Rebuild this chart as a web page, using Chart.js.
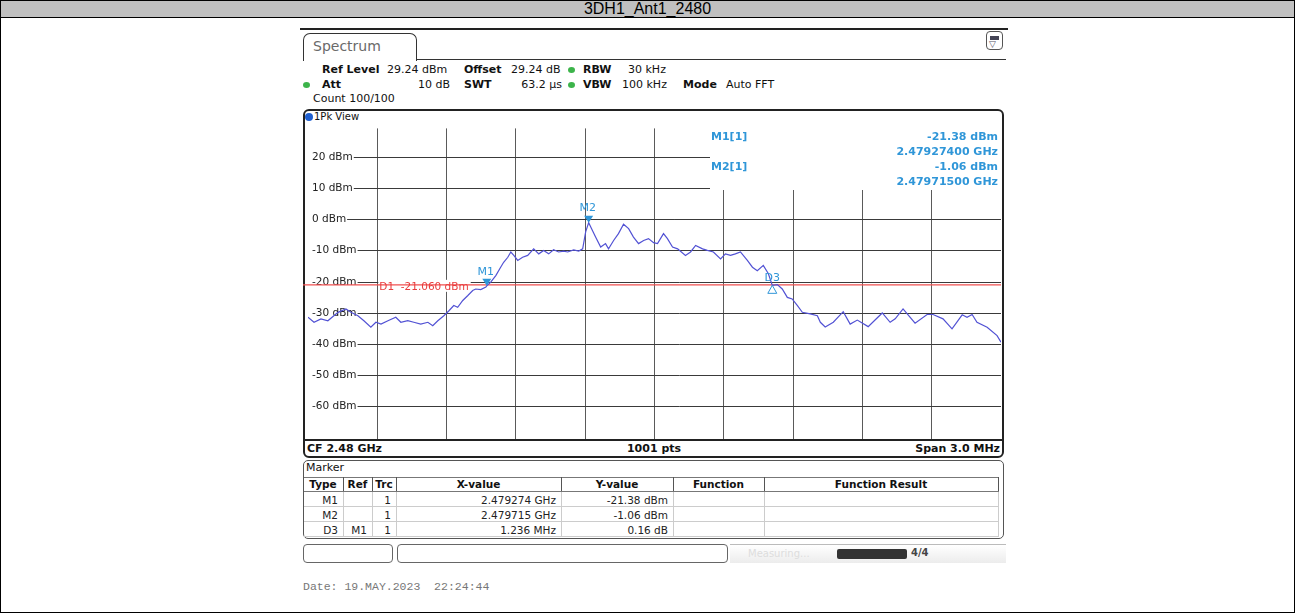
<!DOCTYPE html>
<html><head><meta charset="utf-8">
<script src="https://cdn.jsdelivr.net/npm/chart.js@4/dist/chart.umd.min.js"></script>
<style>
html,body{margin:0;padding:0;background:#fff;}
body{width:1295px;height:613px;position:relative;overflow:hidden;font-family:"DejaVu Sans",sans-serif;color:#111;}
.a{position:absolute;white-space:nowrap;line-height:1;}
.b{font-weight:bold;}
.c11{font-size:11px;}
.dot{position:absolute;width:7px;height:6px;border-radius:50%;background:#3cb44a;}
#chart{position:absolute;left:0;top:0;z-index:5;}
.box{position:absolute;box-sizing:border-box;}
</style></head><body>

<!-- title bar and outer frame -->
<div class="box" style="left:0;top:0;width:1295px;height:18px;background:#c0c0c0;border:1px solid #000;"></div>
<div class="a" style="left:0;top:1px;width:1295px;text-align:center;font-family:'Liberation Sans',Arial,sans-serif;font-size:16px;line-height:16px;color:#000;">3DH1_Ant1_2480</div>
<div class="box" style="left:0;top:17px;width:1295px;height:596px;border:1px solid #000;"></div>

<!-- instrument top -->
<div class="box" style="left:300px;top:28px;width:708px;height:2px;background:#222;"></div>
<div class="box" style="left:303px;top:33px;width:114px;height:28px;border:1px solid #333;border-bottom:none;border-radius:7px 7px 0 0;"></div>
<div class="box" style="left:416px;top:59px;width:590px;height:1px;background:#333;"></div>
<div class="a" style="left:313px;top:39px;font-size:14px;color:#6a6a6a;">Spectrum</div>
<div class="box" style="left:986px;top:31px;width:17px;height:19px;border:1px solid #555;border-radius:4px;"></div>
<div class="box" style="left:990px;top:36px;width:9px;height:4px;background:#445;"></div>
<div class="a" style="left:989px;top:40px;font-size:9px;color:#556;">▽</div>

<div class="a c11 b" style="left:322px;top:64px;">Ref Level</div>
<div class="a c11" style="left:387px;top:64px;">29.24 dBm</div>
<div class="a c11 b" style="left:464px;top:64px;">Offset</div>
<div class="a c11" style="left:511px;top:64px;">29.24 dB</div>
<div class="dot" style="left:568px;top:67px;"></div>
<div class="a c11 b" style="left:583px;top:64px;">RBW</div>
<div class="a c11" style="left:628px;top:64px;">30 kHz</div>

<div class="dot" style="left:303px;top:82px;"></div>
<div class="a c11 b" style="left:322px;top:79px;">Att</div>
<div class="a c11" style="left:400px;top:79px;width:50px;text-align:right;">10 dB</div>
<div class="a c11 b" style="left:464px;top:79px;">SWT</div>
<div class="a c11" style="left:500px;top:79px;width:62px;text-align:right;">63.2 µs</div>
<div class="dot" style="left:568px;top:82px;"></div>
<div class="a c11 b" style="left:583px;top:79px;">VBW</div>
<div class="a c11" style="left:622px;top:79px;">100 kHz</div>
<div class="a c11 b" style="left:683px;top:79px;">Mode</div>
<div class="a c11" style="left:726px;top:79px;">Auto FFT</div>
<div class="a c11" style="left:313px;top:93px;">Count 100/100</div>

<!-- plot frame -->
<div class="box" style="left:303px;top:109px;width:701px;height:349px;border:2px solid #222;border-radius:6px;"></div>
<div class="box" style="left:305px;top:113px;width:8px;height:8px;border-radius:50%;background:#1f5fd0;"></div>
<div class="a" style="left:314px;top:112px;font-size:10px;">1Pk View</div>
<div class="box" style="left:304px;top:439px;width:699px;height:2px;background:#222;"></div>
<div class="a c11 b" style="left:307px;top:443px;">CF 2.48 GHz</div>
<div class="a c11 b" style="left:554px;top:443px;width:200px;text-align:center;">1001 pts</div>
<div class="a c11 b" style="left:800px;top:443px;width:200px;text-align:right;">Span 3.0 MHz</div>

<!-- marker panel -->
<div class="box" style="left:303px;top:460px;width:701px;height:79px;border:1px solid #555;border-radius:5px;"></div>
<div class="a c11" style="left:306px;top:462px;">Marker</div>
<div id="tbl"></div>

<!-- status bar -->
<div class="box" style="left:303px;top:544px;width:90px;height:19px;border:1px solid #666;border-radius:4px;"></div>
<div class="box" style="left:397px;top:544px;width:331px;height:19px;border:1px solid #666;border-radius:4px;"></div>
<div class="box" style="left:730px;top:544px;width:276px;height:19px;background:linear-gradient(#fff,#ececec);border-top:1px solid #bbb;"></div>
<div class="a" style="left:748px;top:549px;font-size:10px;color:#ddd;">Measuring...</div>
<div class="box" style="left:837px;top:549px;width:70px;height:10px;background:#333;border-radius:2px;"></div>
<div class="a" style="left:911px;top:548px;font-size:10px;color:#444;font-weight:bold;">4/4</div>

<div class="a" style="left:303px;top:581px;font-family:'Liberation Mono','Courier New',monospace;font-size:11.5px;color:#777;">Date: 19.MAY.2023&nbsp;&nbsp;22:24:44</div>

<canvas id="chart" width="1295" height="613"></canvas>

<script>
// ---- data ----
const freqMHz = [
 2478.500,2478.526,2478.556,2478.586,2478.612,2478.630,2478.664,2478.686,2478.716,2478.742,
 2478.772,2478.794,2478.816,2478.846,2478.880,2478.902,2478.932,2478.958,2478.988,2479.019,
 2479.040,2479.062,2479.088,2479.110,2479.131,2479.148,2479.170,2479.192,2479.213,2479.226,
 2479.248,2479.270,2479.274,2479.291,2479.313,2479.334,2479.347,2479.365,2479.378,2479.391,
 2479.408,2479.429,2479.451,2479.477,2479.499,2479.520,2479.542,2479.563,2479.585,2479.607,
 2479.624,2479.650,2479.672,2479.689,2479.702,2479.715,2479.724,2479.745,2479.767,2479.788,
 2479.801,2479.823,2479.844,2479.866,2479.888,2479.909,2479.931,2479.953,2479.974,2479.996,
 2480.013,2480.039,2480.056,2480.078,2480.100,2480.134,2480.156,2480.178,2480.208,2480.229,
 2480.255,2480.286,2480.307,2480.329,2480.350,2480.372,2480.402,2480.424,2480.445,2480.471,
 2480.493,2480.510,2480.532,2480.553,2480.575,2480.596,2480.618,2480.640,2480.674,2480.705,
 2480.718,2480.739,2480.774,2480.817,2480.847,2480.878,2480.925,2480.986,2481.020,2481.042,
 2481.076,2481.128,2481.180,2481.206,2481.249,2481.288,2481.332,2481.353,2481.375,2481.396,
 2481.440,2481.483,2481.500];
const levelDbm = [
 -31.5,-33.1,-32.0,-32.6,-31.0,-29.9,-28.8,-29.9,-31.0,-32.6,
 -34.7,-33.1,-33.7,-32.6,-31.5,-33.1,-32.6,-33.1,-33.7,-33.1,
 -34.2,-32.6,-31.0,-29.4,-27.7,-28.3,-26.1,-24.5,-22.9,-22.4,
 -22.6,-21.8,-21.38,-20.2,-18.1,-15.4,-13.8,-12.2,-10.5,-11.6,
 -13.2,-12.2,-11.6,-9.5,-11.1,-10.0,-11.1,-9.8,-10.5,-10.2,
 -10.5,-9.8,-10.2,-9.5,-4.0,-1.06,-2.5,-5.7,-8.9,-7.8,
 -9.5,-6.8,-4.6,-1.6,-3.0,-5.7,-7.8,-6.8,-6.2,-7.5,
 -7.8,-4.6,-6.2,-8.9,-9.5,-11.6,-10.5,-8.4,-9.5,-10.0,
 -10.5,-12.7,-11.1,-11.6,-11.1,-10.5,-13.2,-15.4,-16.5,-14.8,
 -17.5,-21.22,-21.0,-22.4,-25.1,-25.6,-27.7,-29.9,-30.4,-31.0,
 -33.1,-34.6,-33.1,-29.7,-33.7,-32.4,-34.5,-30.1,-33.1,-32.0,
 -28.8,-33.4,-30.6,-30.6,-32.0,-35.2,-30.7,-31.5,-30.6,-33.1,
 -34.7,-37.4,-39.5];

const yTickValues = [20, 10, 0, -10, -20, -30, -40, -50, -60];
const yTickLabels = ['20 dBm','10 dBm','0 dBm','-10 dBm','-20 dBm','-30 dBm','-40 dBm','-50 dBm','-60 dBm'];
const xGridMHz = [2478.8, 2479.1, 2479.4, 2479.7, 2480.0, 2480.3, 2480.6, 2480.9, 2481.2];
const refLevel = 29.24;
const rangeDb = 100;
const startMHz = 2478.5, stopMHz = 2481.5;

const markerNames  = ['M1', 'M2', 'D3'];
const markerFreq   = [2479.274, 2479.715, 2480.510];
const markerLevel  = [-21.38, -1.06, -21.22];
const markerInfoFreqGHz = ['2.47927400 GHz', '2.47971500 GHz'];
const markerInfoLevel = ['-21.38 dBm', '-1.06 dBm'];
const displayLine = -21.06;
const displayLineLabel = 'D1  -21.060 dBm';

const tblHeader = ['Type','Ref','Trc','X-value','Y-value','Function','Function Result'];
const tblRows = [
  ['M1','','1','2.479274 GHz','-21.38 dBm','',''],
  ['M2','','1','2.479715 GHz','-1.06 dBm','',''],
  ['D3','M1','1','1.236 MHz','0.16 dB','','']
];

// ---- marker table (HTML) ----
(function(){
  const cols = [303, 343, 372, 396, 561, 673, 764, 998];
  const t = document.getElementById('tbl');
  let h = '';
  const hTop = 477, rowH = 15;
  h += `<div class="box" style="left:304px;top:${hTop}px;width:695px;height:1px;background:#777;"></div>`;
  h += `<div class="box" style="left:304px;top:${hTop+14}px;width:695px;height:1px;background:#777;"></div>`;
  for (let i=1;i<cols.length;i++){
    h += `<div class="box" style="left:${cols[i]}px;top:${hTop}px;width:1px;height:14px;background:#555;"></div>`;
  }
  tblHeader.forEach((s,i)=>{
    h += `<div class="a b" style="left:${cols[i]}px;top:${hTop+2}px;width:${cols[i+1]-cols[i]}px;text-align:center;font-size:10.5px;">${s}</div>`;
  });
  tblRows.forEach((r,ri)=>{
    const top = hTop + 15 + ri*rowH;
    h += `<div class="box" style="left:304px;top:${top+rowH-1}px;width:695px;height:1px;background:#ccc;"></div>`;
    for (let i=1;i<cols.length;i++){
      h += `<div class="box" style="left:${cols[i]}px;top:${top}px;width:1px;height:${rowH-1}px;background:#ccc;"></div>`;
    }
    r.forEach((s,i)=>{
      if(!s) return;
      h += `<div class="a" style="left:${cols[i]}px;top:${top+2.5}px;width:${cols[i+1]-cols[i]-5}px;text-align:right;font-size:10.5px;color:#222;">${s}</div>`;
    });
  });
  t.innerHTML = h;
})();

// ---- chart ----
const overlay = {
  id: 'rsOverlay',
  beforeDatasetsDraw(chart) {
    const {ctx, chartArea: a, scales: {x, y}} = chart;
    ctx.save();
    const boxLeft = 708, boxBottom = 190;
    ctx.fillStyle = '#fff';
    ctx.fillRect(boxLeft, a.top - 2, a.right - boxLeft, boxBottom - a.top + 2);
    ctx.font = '10.5px "DejaVu Sans"';
    ctx.textBaseline = 'middle';
    ctx.textAlign = 'left';
    yTickValues.forEach((v, i) => {
      const py = Math.round(y.getPixelForValue(v)) + 0.5;
      const lx = a.left + 4;
      const w = ctx.measureText(yTickLabels[i]).width;
      ctx.fillStyle = '#222';
      ctx.fillText(yTickLabels[i], lx, py);
      ctx.strokeStyle = '#3a3a3a';
      ctx.lineWidth = 1;
      ctx.beginPath();
      ctx.moveTo(lx + w + 1, py);
      ctx.lineTo(py < boxBottom ? boxLeft + 2 : a.right, py);
      ctx.stroke();
    });
    const dy = y.getPixelForValue(displayLine);
    const labX = x.getPixelForValue(xGridMHz[0]) + 2;
    ctx.font = '10.5px "DejaVu Sans"';
    const lw = ctx.measureText(displayLineLabel).width;
    ctx.fillStyle = '#fff';
    ctx.fillRect(labX - 1, dy - 5, lw + 3, 12);
    ctx.strokeStyle = '#f05050';
    ctx.lineWidth = 1.3;
    ctx.beginPath();
    ctx.moveTo(a.left - 5, dy);
    ctx.lineTo(a.right, dy);
    ctx.stroke();
    ctx.fillStyle = '#e83c3c';
    ctx.fillText(displayLineLabel, labX, dy + 2);
    ctx.restore();
  },
  afterDatasetsDraw(chart) {
    const {ctx, chartArea: a, scales: {x, y}} = chart;
    ctx.save();
    const mc = '#2f96d8';
    ctx.fillStyle = mc; ctx.strokeStyle = mc;
    ctx.font = '11px "DejaVu Sans"';
    ctx.textAlign = 'center';
    ctx.textBaseline = 'middle';
    markerNames.forEach((n, i) => {
      const px = x.getPixelForValue(markerFreq[i]);
      const py = y.getPixelForValue(markerLevel[i]);
      if (n[0] === 'M') {
        ctx.beginPath();
        ctx.moveTo(px - 4.5, py - 7);
        ctx.lineTo(px + 4.5, py - 7);
        ctx.lineTo(px, py);
        ctx.closePath();
        ctx.fill();
        ctx.fillText(n, px - 1, py - 14);
      } else {
        ctx.lineWidth = 1;
        ctx.beginPath();
        ctx.moveTo(px, py);
        ctx.lineTo(px - 4.5, py + 8);
        ctx.lineTo(px + 4.5, py + 8);
        ctx.closePath();
        ctx.stroke();
        ctx.fillText(n, px, py - 7);
      }
    });
    ctx.font = 'bold 11px "DejaVu Sans"';
    const rx = a.right - 3;
    for (let i = 0; i < 2; i++) {
      const ty = 137 + i * 30.5;
      ctx.textAlign = 'left';
      ctx.fillText(markerNames[i] + '[1]', 711, ty);
      ctx.textAlign = 'right';
      ctx.fillText(markerInfoLevel[i], rx, ty);
      ctx.fillText(markerInfoFreqGHz[i], rx, ty + 15);
    }
    ctx.restore();
  }
};

new Chart(document.getElementById('chart'), {
  type: 'line',
  data: {
    datasets: [{
      data: freqMHz.map((f, i) => ({x: f, y: levelDbm[i]})),
      borderColor: '#5252d4',
      borderWidth: 1.2,
      pointRadius: 0,
      tension: 0,
      fill: false
    }]
  },
  options: {
    responsive: false,
    animation: false,
    devicePixelRatio: 1,
    layout: {padding: {left: 308, top: 128.4, right: 294, bottom: 173.6}},
    plugins: {legend: {display: false}, tooltip: {enabled: false}},
    scales: {
      x: {
        type: 'linear', min: startMHz, max: stopMHz,
        afterBuildTicks: s => { s.ticks = xGridMHz.map(v => ({value: v})); },
        afterFit: s => { s.height = 0; },
        ticks: {display: false},
        grid: {color: '#5a5a5a', lineWidth: 1, drawTicks: false},
        border: {display: false}
      },
      y: {
        type: 'linear', min: refLevel - rangeDb, max: refLevel,
        afterFit: s => { s.width = 0; },
        ticks: {display: false},
        grid: {display: false},
        border: {display: false}
      }
    }
  },
  plugins: [overlay]
});
</script>
</body></html>
